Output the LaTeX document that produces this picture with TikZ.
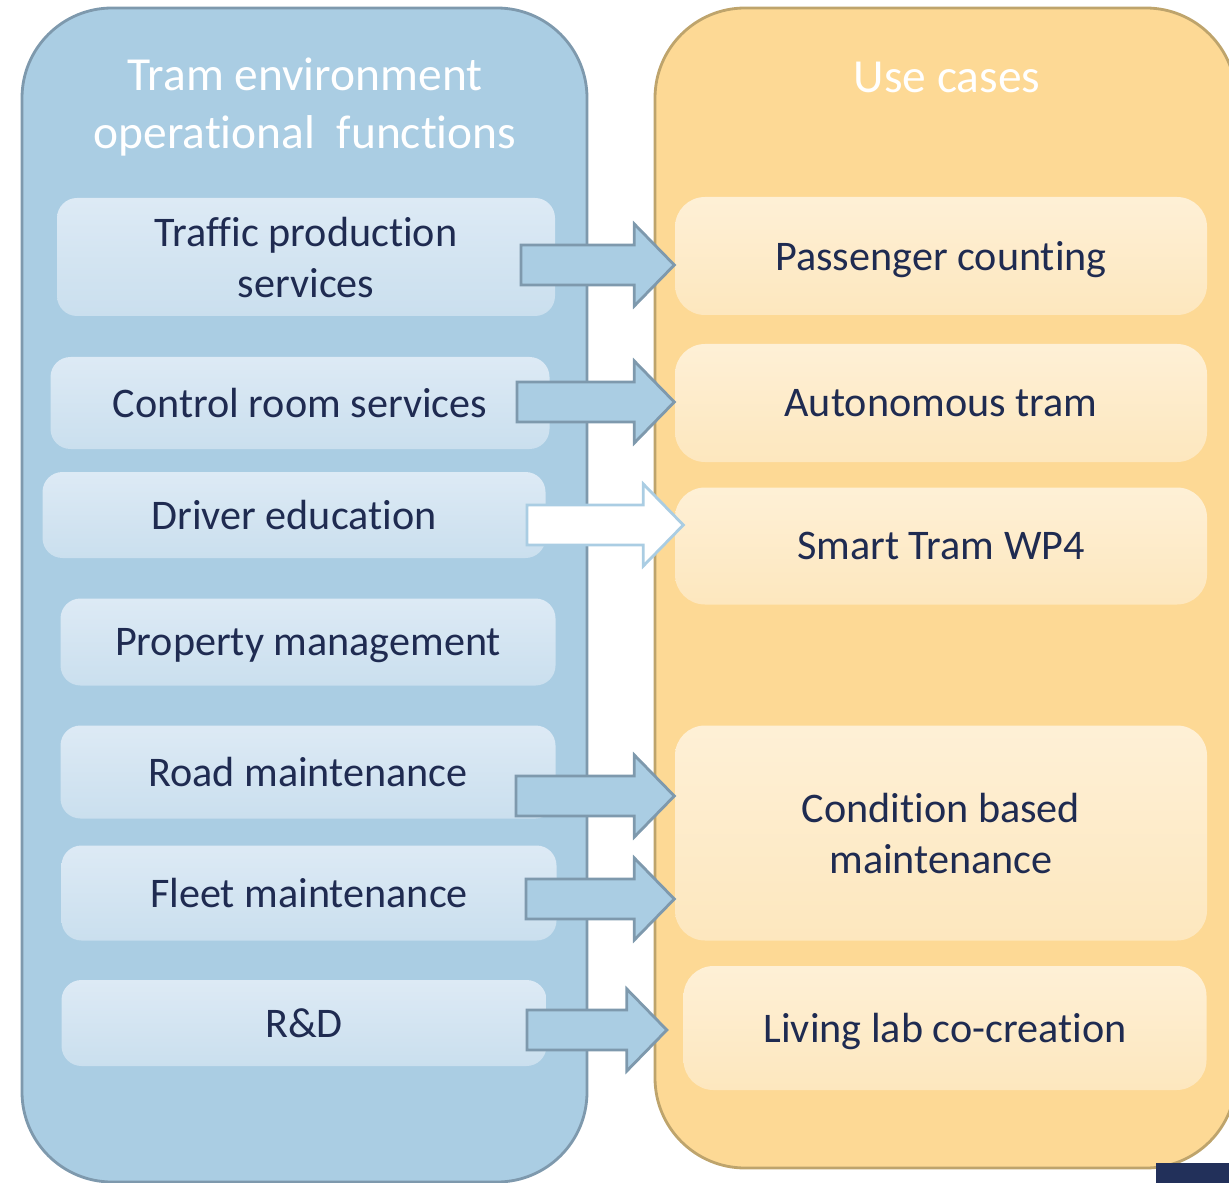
\documentclass[tikz,border=0pt]{standalone}
\usepackage{fontspec}
\setmainfont{Carlito}[Ligatures=NoCommon]
\usetikzlibrary{calc}

\definecolor{envfill}{HTML}{AACDE3}
\definecolor{envedge}{HTML}{7E99AD}
\definecolor{envtop}{HTML}{DDEAF5}
\definecolor{envbot}{HTML}{CADFEE}
\definecolor{usefill}{HTML}{FDD995}
\definecolor{useedge}{HTML}{BEA46C}
\definecolor{usetop}{HTML}{FEF0D6}
\definecolor{usebot}{HTML}{FDE7BE}
\definecolor{navytext}{HTML}{1F2B51}
\definecolor{navyblock}{HTML}{22305A}

\tikzset{
  panel/.style={line width=0.8pt, rounded corners=9mm},
  title/.style={text=white, align=center, font=\fontsize{13.5}{16.5}\selectfont},
  envbox/.style={rounded corners=2mm, top color=envtop, bottom color=envbot, text depth=0pt,
    text=navytext, align=center, font=\fontsize{12}{14.5}\selectfont},
  usebox/.style={rounded corners=3mm, top color=usetop, bottom color=usebot, text depth=0pt,
    text=navytext, align=center, font=\fontsize{12}{14.5}\selectfont},
  arrowbox/.style={fill=envfill, draw=envedge, line width=0.8pt},
  hollowarrow/.style={fill=white, draw=envfill, line width=0.8pt}
}

% block arrow: [style]{tail}{target}{tip shift in px}
\newcommand{\blockarrow}[4][arrowbox]{%
  \draw[#1] let \p1=(#2), \p3=($(#3)+(#4,0)$) in
    (\x1,\y1+2mm) -- (\x3-4mm,\y1+2mm) -- (\x3-4mm,\y1+4.1mm)
    -- (\x3,\y1) -- (\x3-4mm,\y1-4.1mm)
    -- (\x3-4mm,\y1-2mm) -- (\x1,\y1-2mm) -- cycle;
}

\begin{document}
\begin{tikzpicture}[x=0.1mm, y=-0.1mm]
\useasboundingbox (0,0) rectangle (1229,1183);
\clip (0,0) rectangle (1229,1183);

% the two panels
\draw[panel, fill=envfill, draw=envedge] (22,8) rectangle (587,1182);
\draw[panel, fill=usefill, draw=useedge] (655,8) rectangle (1236,1168);

\node[title] (envtitle) at (305,107) {Tram environment\\operational~ functions};
\node[title] (usetitle) at (947,77) {Use cases};

% operational functions
\node[envbox, minimum width=49.8mm, minimum height=11.8mm] (tps) at (306,257) {Traffic production\\services};
\node[envbox, minimum width=49.9mm, minimum height=9.2mm] (crs) at (300,403) {Control room services};
\node[envbox, minimum width=50.3mm, minimum height=8.6mm] (de) at (294,515) {Driver education};
\node[envbox, minimum width=49.5mm, minimum height=8.7mm] (pm) at (308,642) {Property management};
\node[envbox, minimum width=49.5mm, minimum height=9.3mm] (rm) at (308,772) {Road maintenance};
\node[envbox, minimum width=49.5mm, minimum height=9.5mm] (fm) at (309,893) {Fleet maintenance};
\node[envbox, minimum width=48.5mm, minimum height=8.6mm] (rd) at (304,1023) {R\&D};

% use cases
\node[usebox, minimum width=53.2mm, minimum height=11.8mm] (pc) at (941,256) {Passenger counting};
\node[usebox, minimum width=53.2mm, minimum height=11.8mm] (at) at (941,403) {Autonomous tram};
\node[usebox, minimum width=53.2mm, minimum height=11.7mm] (st) at (941,546) {Smart Tram WP4};
\node[usebox, minimum width=53.2mm, minimum height=21.5mm] (cbm) at (941,833) {Condition based\\maintenance};
\node[usebox, minimum width=52.3mm, minimum height=12.4mm] (ll) at (945,1028) {Living lab co-creation};

% arrow tails
\coordinate (tpstail) at (521,265);
\coordinate (crstail) at (517,402);
\coordinate (detail) at (527,525);
\coordinate (rmtail) at (516,796);
\coordinate (fmtail) at (526,899);
\coordinate (rdtail) at (527,1030);

\blockarrow{tpstail}{pc.west}{0}
\blockarrow{crstail}{at.west}{0}
\blockarrow[hollowarrow]{detail}{st.west}{9}
\blockarrow{rmtail}{cbm.west}{0}
\blockarrow{fmtail}{cbm.west}{0}
\blockarrow{rdtail}{ll.west}{-16}

\fill[navyblock] (1156,1163) rectangle (1229,1183);
\end{tikzpicture}
\end{document}
